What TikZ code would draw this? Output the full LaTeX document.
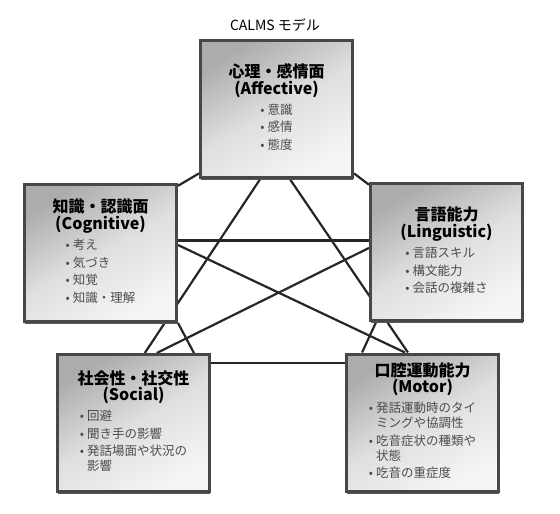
\documentclass[tikz,border=0pt]{standalone}
\usepackage{fontspec}
\setmainfont{Noto Sans CJK JP}
\usepackage{tikz}
\usetikzlibrary{positioning,calc,backgrounds,shadows}
\setlength{\parindent}{0pt}
\newcommand{\headfont}{\fontsize{16}{16.5}\selectfont\bfseries}
\newcommand{\listfont}{\fontsize{12.5}{15}\selectfont\color{black!70}}
\newcommand{\calmshead}[2]{{\headfont #1\\#2\par}\vspace{5pt}}

\begin{document}
\begin{tikzpicture}[x=1pt, y=-1pt,
  factor/.style={draw=black!72, line width=3pt, top color=gray!65, bottom color=gray!8,
    middle color=gray!25, shading angle=30,
    drop shadow={shadow xshift=0.5pt, shadow yshift=-2.5pt, fill=black!65, opacity=1},
    minimum width=152pt, minimum height=137pt, inner sep=0pt,
    text width=146pt, align=center},
  link/.style={draw=black!85, line width=2.2pt}]
  \useasboundingbox (0,0) rectangle (560,514);
  \node[font=\fontsize{14}{16}\selectfont] (title) at (275,25) {CALMS モデル};
  % five factors
  \node[factor] (aff) at (276.5,109) {\calmshead{心理・感情面}{(Affective)}%
    {\listfont\begin{tabular}{@{}l@{\hspace{3pt}}l@{}}
      •&意識\\[2.5pt] •&感情\\[2.5pt] •&態度
    \end{tabular}\par}};
  \node[factor] (cog) at (100.5,253) {\calmshead{知識・認識面}{(Cognitive)}%
    {\listfont\begin{tabular}{@{}l@{\hspace{3pt}}l@{}}
      •&考え\\[2.5pt] •&気づき\\[2.5pt] •&知覚\\[2.5pt] •&知識・理解
    \end{tabular}\par}};
  \node[factor] (lin) at (446.5,252) {\calmshead{言語能力}{(Linguistic)}%
    {\listfont\begin{tabular}{@{}l@{\hspace{3pt}}l@{}}
      •&言語スキル\\[2.5pt] •&構文能力\\[2.5pt] •&会話の複雑さ
    \end{tabular}\par}};
  \node[factor] (soc) at (133.5,423) {\calmshead{社会性・社交性}{(Social)}%
    {\listfont\begin{tabular}{@{}l@{\hspace{3pt}}l@{}}
      •&回避\\[2.5pt] •&聞き手の影響\\[2.5pt] •&発話場面や状況の\\ &影響
    \end{tabular}\par}};
  \node[factor] (mot) at (422.5,422.5) {\calmshead{口腔運動能力}{(Motor)}%
    {\listfont\begin{tabular}{@{}l@{\hspace{3pt}}l@{}}
      •&発話運動時のタイ\\ &ミングや協調性\\[2.5pt] •&吃音症状の種類や\\ &状態\\[2.5pt]
      •&吃音の重症度
    \end{tabular}\par}};
  % links between all factors
  \begin{scope}[on background layer]
    \draw[link] ($(aff.south west)!.04!(aff.north west)$) -- ($(cog.north east)!.02!(cog.south east)$);
    \draw[link] ($(aff.south east)!.04!(aff.north east)$) -- ($(lin.north west)!.02!(lin.south west)$);
    \draw[link] ($(aff.south west)!.395!(aff.south east)$) -- ($(soc.north west)!.573!(soc.north east)$);
    \draw[link] ($(aff.south west)!.586!(aff.south east)$) -- ($(mot.north west)!.406!(mot.north east)$);
    \draw[link] ($(cog.north east)!.41!(cog.south east)$) coordinate (cl) -- (cl -| lin.west);
    \draw[link] ($(cog.north east)!.443!(cog.south east)$) -- ($(mot.north west)!.387!(mot.north east)$);
    \draw[link] ($(lin.north west)!.471!(lin.south west)$) -- ($(soc.north west)!.65!(soc.north east)$);
    \draw[link] (cog.south east) -- ($(soc.north west)!.89!(soc.north east)$);
    \draw[link] ($(lin.south west)!.046!(lin.south east)$) -- ($(mot.north west)!.11!(mot.north east)$);
    \draw[link] ($(soc.north east)!.07!(soc.south east)$) coordinate (sm) -- (sm -| mot.west);
  \end{scope}
\end{tikzpicture}
\end{document}
